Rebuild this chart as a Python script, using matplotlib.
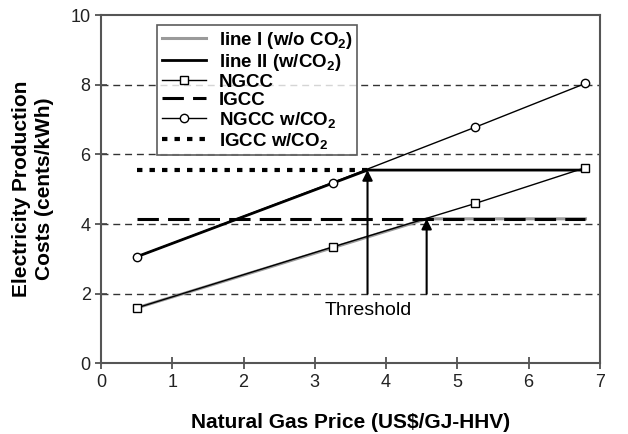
import matplotlib
matplotlib.use("Agg")
import matplotlib.pyplot as plt
import numpy as np

plt.rcParams['font.family'] = ['Liberation Sans', 'DejaVu Sans']
plt.rcParams['mathtext.fontset'] = 'custom'
plt.rcParams['mathtext.bf'] = 'Liberation Sans:bold'
plt.rcParams['mathtext.rm'] = 'Liberation Sans:bold'
plt.rcParams['mathtext.default'] = 'bf'

# data
gas_price = [0.5, 3.25, 5.25, 6.8]
ngcc = [1.59, 3.34, 4.59, 5.62]
ngcc_co2 = [3.06, 5.19, 6.78, 8.04]
igcc_x = [0.5, 6.8]
igcc = [4.15, 4.15]
igcc_co2_x = [0.5, 3.74]
igcc_co2 = [5.55, 5.55]
line1_x = [0.5, 4.57, 6.8]
line1_y = [1.59, 4.15, 4.15]
line2_x = [0.5, 3.74, 6.75]
line2_y = [3.06, 5.55, 5.55]
threshold_x = [3.74, 4.57]
threshold_top = [5.55, 4.15]
threshold_base = 2.0
grid_levels = [2, 4, 6, 8]

fig = plt.figure(figsize=(6.28, 4.34), dpi=100)
ax = fig.add_axes([0.161, 0.163, 0.794, 0.802])

for g in grid_levels:
    ax.axhline(g, color='#333333', lw=1.0, linestyle=(0, (5, 3.5)), zorder=1)

l1, = ax.plot(line1_x, line1_y, color='#9a9a9a', lw=2.2, zorder=2, label='line I (w/o CO$_2$)')
l2, = ax.plot(line2_x, line2_y, color='black', lw=2.0, zorder=3, label='line II (w/CO$_2$)')
n1, = ax.plot(gas_price, ngcc, color='black', lw=1.0, marker='s', ms=6, mfc='white', mec='black', mew=1.0, zorder=5, label='NGCC')
i1, = ax.plot(igcc_x, igcc, color='black', lw=2.2, linestyle=(0, (7, 3)), zorder=3, label='IGCC')
n2, = ax.plot(gas_price, ngcc_co2, color='black', lw=1.0, marker='o', ms=6, mfc='white', mec='black', mew=1.0, zorder=5, label='NGCC w/CO$_2$')
i2, = ax.plot(igcc_co2_x, igcc_co2, color='black', lw=3.0, linestyle=(0, (1.3, 1.7)), zorder=2, label='IGCC w/CO$_2$')

for tx, ty in zip(threshold_x, threshold_top):
    ax.annotate('', xy=(tx, ty), xytext=(tx, threshold_base),
                arrowprops=dict(arrowstyle='-|>,head_length=0.6,head_width=0.3', color='black', lw=1.5, shrinkA=0, shrinkB=0),
                zorder=6)
ax.text(3.75, 1.52, 'Threshold', ha='center', va='center', fontsize=14)

ax.set_xlim(0, 7)
ax.set_ylim(0, 10)
ax.set_xticks(range(0, 8))
ax.set_yticks(range(0, 11, 2))
ax.tick_params(direction='inout', length=8, width=1.2, color='#444444', labelsize=13, labelcolor='#222222')
for s in ax.spines.values():
    s.set_color('#555555')
    s.set_linewidth(1.5)

ax.set_xlabel('Natural Gas Price (US$/GJ-HHV)', fontsize=15, fontweight='bold', labelpad=16)
ax.set_ylabel('Electricity Production\nCosts (cents/kWh)', fontsize=15, fontweight='bold', labelpad=12, linespacing=1.25)

leg = ax.legend(handles=[l1, l2, n1, i1, n2, i2], loc='upper left', bbox_to_anchor=(0.112, 0.972),
                prop={'weight': 'bold', 'size': 13.5}, frameon=True, fancybox=False,
                borderpad=0.25, labelspacing=0.05, handlelength=2.35, handletextpad=0.7,
                borderaxespad=0)
leg.get_frame().set_edgecolor('#333333')
leg.get_frame().set_linewidth(1.2)

fig.savefig('out.png', dpi=100)
